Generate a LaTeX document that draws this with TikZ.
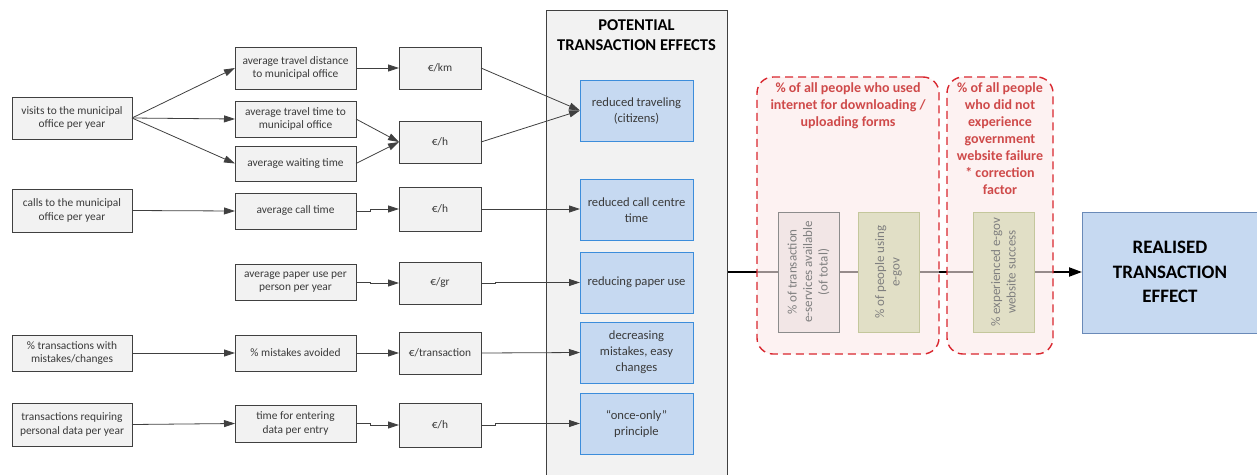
\documentclass[tikz,border=0pt]{standalone}
\usepackage{fontspec}
\setmainfont{Carlito}
\usetikzlibrary{arrows.meta}
\definecolor{boxfill}{HTML}{F2F2F2}
\definecolor{boxline}{HTML}{404040}
\definecolor{txt}{HTML}{3A3A3A}
\definecolor{bluefill}{HTML}{C6D9F1}
\definecolor{blueline}{HTML}{3C8DDB}
\definecolor{realline}{HTML}{6A8AB8}
\definecolor{redline}{HTML}{D9262E}
\definecolor{redtxt}{HTML}{CF4A4A}
\definecolor{redfill}{HTML}{FBE9E9}
\definecolor{pinkfill}{HTML}{F2E6E6}
\definecolor{pinkline}{HTML}{8C8C8C}
\definecolor{olivefill}{HTML}{E1DFC6}
\definecolor{oliveline}{HTML}{C4C79C}
\definecolor{rottxt}{HTML}{7F7F7F}
\begin{document}
\begin{tikzpicture}[x=1pt,y=-1pt,
  every node/.style={inner sep=0pt, outer sep=0pt},
  fact/.style={draw=boxline, line width=0.9pt, fill=boxfill, text=txt,
    font=\fontsize{11.4}{13.4}\selectfont, align=center},
  srcbox/.style={fact, minimum width=120pt},
  midbox/.style={fact, minimum width=121pt},
  costbox/.style={fact, minimum width=82pt},
  effbox/.style={draw=blueline, line width=0.9pt, fill=bluefill, text=txt,
    font=\fontsize{12.6}{16}\selectfont, align=center, minimum width=113pt, minimum height=61pt},
  group/.style={draw=redline, line width=1.4pt, dash pattern=on 8pt off 5pt,
    fill=redfill, fill opacity=0.6, rounded corners=16pt},
  grouptext/.style={text=redtxt, font=\fontsize{14}{17}\selectfont\bfseries, align=center},
  factor/.style={rotate=90, minimum width=120pt, minimum height=61pt, line width=0.9pt,
    text=rottxt, font=\fontsize{13}{15.5}\selectfont, align=center},
  conn/.style={draw=boxline, line width=0.8pt, -{Triangle[length=11pt,width=7pt]}}
]
\useasboundingbox (0,0) rectangle (1257,474);

% column of potential effects
\node[draw=boxline, line width=0.9pt, fill=boxfill, minimum width=181pt, minimum height=476pt,
  anchor=north west] (panel) at (546,10) {};
\node[font=\fontsize{16.5}{20}\selectfont\bfseries, align=center, text=black] (ptitle) at (636.5,35)
  {POTENTIAL\\TRANSACTION EFFECTS};

% realised effect
\node[draw=realline, line width=0.9pt, fill=bluefill, minimum width=180pt, minimum height=121pt,
  anchor=north west] (real) at (1082,212) {};
\node[font=\fontsize{19}{24.5}\selectfont\bfseries, align=center, text=black] (realtext)
  at (1170,272) {REALISED\\TRANSACTION\\EFFECT};

% main flow towards the realised effect
\coordinate (flowstart) at (728,272);
\draw[line width=2pt, black, -{Triangle[length=13pt,width=9pt]}] (flowstart) -- (real.west |- flowstart);

% correction groups
\node[group, minimum width=182pt, minimum height=277pt, anchor=north west] (g1) at (757,77) {};
\node[group, minimum width=106pt, minimum height=277pt, anchor=north west] (g2) at (947,77) {};
\node[grouptext, anchor=north] (g1t) at (848,83)
  {\% of all people who used\\internet for downloading /\\uploading forms};
\node[grouptext, anchor=north] (g2t) at (1000,83)
  {\% of all people\\who did not\\experience\\government\\website failure\\* correction\\factor};

% correction factors
\node[factor, draw=pinkline, fill=pinkfill] (f1) at (808.5,272)
  {\% of transaction\\e-services available\\(of total)};
\node[factor, draw=oliveline, fill=olivefill] (f2) at (888.5,272)
  {\% of people using\\e-gov};
\node[factor, draw=oliveline, fill=olivefill] (f3) at (1003.5,272)
  {\% experienced e-gov\\website success};

% source quantities
\node[srcbox, minimum height=42pt] (visits) at (72,118) {visits to the municipal\\office per year};
\node[srcbox, minimum height=43pt] (calls) at (72,210.5) {calls to the municipal\\office per year};
\node[srcbox, minimum height=36pt] (mist) at (72,353) {\% transactions with\\mistakes/changes};
\node[srcbox, minimum height=43pt] (pdata) at (72,424.5) {transactions requiring\\personal data per year};

% intermediate quantities
\node[midbox, minimum height=42pt] (dist) at (295.5,68) {average travel distance\\to municipal office};
\node[midbox, minimum height=36pt] (ttime) at (295.5,119) {average travel time to\\municipal office};
\node[midbox, minimum height=35pt] (wait) at (295.5,163.5) {average waiting time};
\node[midbox, minimum height=36pt] (ctime) at (295.5,211) {average call time};
\node[midbox, minimum height=36pt] (paper) at (295.5,282) {average paper use per\\person per year};
\node[midbox, minimum height=36pt] (avoid) at (295.5,353) {\% mistakes avoided};
\node[midbox, minimum height=37pt] (entry) at (295.5,423.5) {time for entering\\data per entry};

% unit costs
\node[costbox, minimum height=42pt] (ckm) at (440,68) {€/km};
\node[costbox, minimum height=42pt] (ch1) at (440,142) {€/h};
\node[costbox, minimum height=44pt] (ch2) at (440,209) {€/h};
\node[costbox, minimum height=42pt] (cgr) at (440,283) {€/gr};
\node[costbox, minimum height=42pt] (ctr) at (440,353) {€/transaction};
\node[costbox, minimum height=44pt] (ch3) at (440,425) {€/h};

% potential effects
\node[effbox] (etravel) at (636.5,110.5) {reduced traveling\\(citizens)};
\node[effbox] (ecall) at (636.5,210) {reduced call centre\\time};
\node[effbox] (epaper) at (636.5,282.5) {reducing paper use};
\node[effbox] (emist) at (636.5,352.5) {decreasing\\mistakes, easy\\changes};
\node[effbox] (eonce) at (636.5,423.5) {“once-only”\\principle};

% connectors
\draw[conn] (visits.east) -- (dist.west);
\draw[conn] (visits.east) -- (ttime.west);
\draw[conn] (visits.east) -- (wait.west);
\draw[conn] (dist.east) -- (ckm.west);
\draw[conn] (ttime.east) -- (ch1.west);
\draw[conn] (wait.east) -- (ch1.west);
\draw[conn] (ckm.east) -- (etravel.west);
\draw[conn] (ch1.east) -- (etravel.west);

\draw[conn] (calls.east) -- (ctime.west);
\draw[conn] (ctime.east) -- ++(14,0) |- (ch2.west);
\draw[conn] (ch2.east) -- (ch2.east -| ecall.west);

\draw[conn] (paper.east) -- ++(14,0) |- (cgr.west);
\draw[conn] (cgr.east) -- ++(14,0) |- (epaper.west);

\draw[conn] (mist.east) -- (avoid.west);
\draw[conn] (avoid.east) -- (ctr.west);
\draw[conn] (ctr.east) -- (emist.west);

\draw[conn] (pdata.east) -- (entry.west);
\draw[conn] (entry.east) -- ++(14,0) |- (ch3.west);
\draw[conn] (ch3.east) -- ++(14,0) |- (eonce.west);
\end{tikzpicture}
\end{document}
